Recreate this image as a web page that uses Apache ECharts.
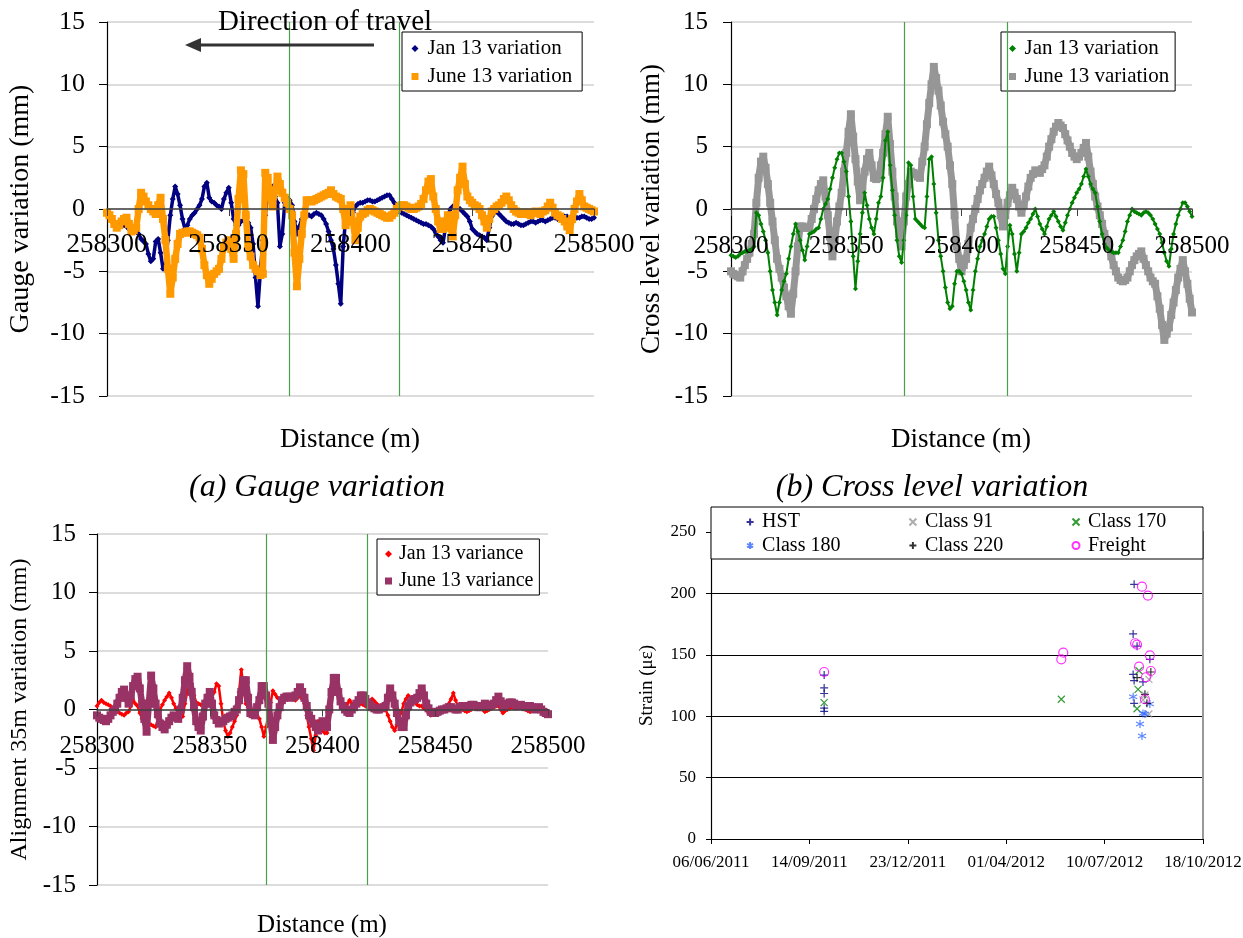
<!DOCTYPE html>
<html>
<head>
<meta charset="utf-8">
<script src="https://cdn.jsdelivr.net/npm/echarts@6/dist/echarts.min.js"></script>
<style>
  html, body { margin: 0; padding: 0; background: #ffffff; }
  #chart { width: 1243px; height: 938px; }
</style>
</head>
<body>
<div id="chart"></div>
<script>
// ---------- track survey data (distance along the line, 1 m sampling) ----------
const distance = Array.from({ length: 201 }, (_, i) => 258300 + i);
const distanceMin = 258300;
const distanceMax = 258500;
const distanceStep = 50;
const sectionMarks = [258375, 258420];   // boundaries of the monitored section

// gauge variation (mm)
const gaugeJan = [
  -0.4, -0.7, -1.0, -1.1, -1.2, -1.0, -1.1, -1.3, -1.4, -1.6,
  -1.5, -1.7, -1.8, -2.0, -2.4, -2.6, -2.8, -3.6, -4.2, -4.0,
  -2.6, -2.4, -3.5, -4.8, -4.5, -2.5, -0.5, 0.8, 1.8, 1.2,
  0.3, -0.8, -1.6, -1.3, -0.8, -0.5, -0.3, 0.0, 0.3, 0.8,
  1.8, 2.1, 0.9, 0.6, 0.5, 0.3, 0.2, 0.0, 0.8, 1.3,
  1.7, 0.5, -0.8, -1.3, -1.3, -1.0, -0.9, -0.8, -1.1, -1.5,
  -2.8, -5.5, -7.8, -5.0, -2.5, -0.5, 1.2, 1.8, 1.8, 1.0,
  0.5, -3.0, -2.0, 0.5, 0.9, 0.7, 0.3, -1.0, -2.0, -1.4,
  -0.8, -0.5, -0.4, -0.5, -0.6, -0.4, -0.3, -0.4, -0.5, -0.8,
  -1.2, -1.8, -2.5, -3.2, -4.5, -6.0, -7.6, -3.0, -0.8, -0.6,
  -0.7, -0.3, 0.2, 0.4, 0.5, 0.5, 0.6, 0.7, 0.7, 0.6,
  0.6, 0.7, 0.8, 0.9, 1.0, 1.1, 1.1, 0.8, 0.5, 0.1,
  -0.2, -0.3, -0.4, -0.5, -0.6, -0.7, -0.8, -0.9, -1.0, -1.1,
  -1.2, -1.2, -1.3, -1.4, -1.6, -1.9, -2.2, -2.5, -2.7, -1.5,
  -0.5, 0.0, 0.2, 0.2, 0.1, 0.0, -0.2, -0.4, -0.6, -1.0,
  -1.6, -1.8, -2.0, -2.1, -2.2, -2.3, -2.5, -1.5, -0.6, -0.3,
  -0.2, -0.4, -0.6, -0.8, -1.0, -1.1, -1.2, -1.2, -1.1, -1.2,
  -1.3, -1.3, -1.2, -1.1, -1.0, -1.0, -1.1, -1.0, -0.9, -0.9,
  -1.0, -0.9, -0.8, -0.7, -0.7, -0.8, -0.8, -0.7, -0.6, -0.6,
  -0.7, -0.8, -0.8, -0.7, -0.7, -0.6, -0.6, -0.7, -0.8, -0.8,
  -0.7
];
const gaugeJun = [
  -0.3, -0.5, -0.8, -1.2, -1.5, -1.3, -1.0, -0.8, -0.7, -1.2,
  -1.8, -1.7, -1.5, 0.0, 1.3, 1.0, 0.6, 0.3, 0.0, -0.2,
  -0.4, 0.3, 0.9, -0.8, -2.5, -4.8, -6.8, -5.5, -4.0, -2.8,
  -2.0, -1.9, -1.9, -1.8, -1.8, -1.9, -2.0, -2.1, -2.3, -3.2,
  -4.5, -5.3, -6.0, -5.6, -5.2, -5.0, -4.8, -4.0, -3.0, -2.7,
  -2.5, -3.2, -4.0, -2.0, 0.8, 3.1, 2.8, -0.5, -3.0, -3.8,
  -4.5, -4.8, -5.0, -5.3, -5.2, 2.9, 2.5, 1.0, 0.2, 1.5,
  2.6, 2.0, 1.3, 0.9, 0.5, 0.0, -0.5, -3.5, -6.2, -4.0,
  -2.0, -0.5, 0.7, 0.7, 0.6, 0.7, 0.8, 0.9, 1.0, 1.1,
  1.2, 1.3, 1.5, 1.2, 1.0, 0.9, 0.8, 0.0, -1.3, -0.5,
  0.3, -1.0, -2.5, -1.5, -0.6, -0.4, -0.3, -0.1, 0.0, -0.1,
  -0.2, -0.3, -0.4, -0.5, -0.6, -0.7, -0.7, -0.5, -0.3, 0.0,
  0.2, 0.3, 0.3, 0.2, 0.1, 0.0, 0.0, 0.1, 0.2, 0.4,
  0.8, 1.5, 2.2, 2.4, 1.0, 0.0, -1.0, -1.6, -1.6, -1.0,
  -0.5, -1.5, -2.2, -0.5, 1.5, 2.5, 3.4, 2.0, 1.0, 0.7,
  0.5, 0.3, 0.2, 0.0, -0.5, -1.0, -1.5, -0.8, -0.2, 0.0,
  0.2, 0.3, 0.5, 0.8, 1.0, 0.7, 0.3, 0.0, -0.2, -0.3,
  -0.4, -0.3, -0.3, -0.4, -0.5, -0.3, -0.2, -0.3, -0.4, -0.2,
  -0.1, 0.2, 0.5, 0.1, -0.3, -0.5, -0.6, -0.8, -1.0, -1.4,
  -1.7, -0.8, 0.0, 0.6, 1.2, 0.7, 0.2, 0.1, 0.0, -0.1,
  -0.2
];

// cross level variation (mm)
const crossJan = [
  -3.7, -3.8, -3.9, -3.8, -3.6, -3.5, -3.4, -3.4, -3.3, -3.2,
  -3.0, -0.3, -0.5, -1.2, -1.8, -2.5, -3.5, -5.0, -6.5, -7.5,
  -8.5, -7.5, -6.5, -5.8, -5.2, -4.0, -3.0, -2.0, -1.2, -1.8,
  -2.5, -3.3, -4.1, -3.0, -2.0, -1.9, -1.8, -1.6, -1.5, -0.8,
  0.0, 0.4, 0.8, 1.6, 2.5, 3.3, 4.0, 4.5, 4.5, 3.8,
  3.0, 1.0, -1.0, -3.8, -6.4, -4.2, -2.0, -0.3, 1.3, 0.3,
  -0.8, -1.5, -2.0, -0.8, 0.5, 1.0, 2.5, 5.5, 6.2, 3.5,
  1.5, -0.5, -2.5, -3.8, -4.3, -2.5, -0.5, 3.7, 3.5, 1.0,
  -0.8, -1.0, -1.2, -1.4, -1.5, 1.0, 4.0, 4.2, 2.0, -0.3,
  -2.5, -3.8, -5.0, -6.3, -7.5, -8.0, -7.8, -6.0, -5.0, -5.0,
  -5.2, -5.8, -6.5, -7.5, -8.1, -6.5, -5.0, -4.0, -3.0, -2.5,
  -2.0, -1.4, -0.8, -0.6, -0.6, -1.5, -2.5, -3.6, -4.8, -5.2,
  -3.0, -1.3, -2.0, -3.6, -5.0, -3.5, -2.0, -1.8, -1.5, -1.1,
  -0.8, -0.4, 0.0, -0.6, -1.2, -1.6, -2.0, -1.4, -0.8, -0.5,
  -0.2, -0.6, -1.0, -1.4, -1.7, -1.1, -0.5, 0.0, 0.5, 0.9,
  1.3, 1.6, 2.0, 2.6, 3.2, 2.6, 2.0, 1.6, 1.3, 0.2,
  -1.0, -2.0, -2.8, -3.1, -3.3, -3.4, -3.5, -3.5, -3.5, -3.0,
  -2.5, -1.8, -1.0, -0.5, 0.0, -0.2, -0.3, -0.4, -0.5, -0.3,
  -0.2, -0.3, -0.5, -0.8, -1.2, -1.6, -2.0, -2.7, -3.5, -4.2,
  -4.6, -3.2, -2.0, -1.2, -0.5, 0.0, 0.5, 0.5, 0.2, -0.2,
  -0.6
];
const crossJun = [
  -5.0, -5.2, -5.3, -5.4, -5.5, -5.0, -4.5, -4.0, -3.5, -2.8,
  -2.0, 0.5, 2.5, 3.8, 4.2, 3.3, 2.0, 0.5, -1.0, -2.5,
  -4.0, -4.8, -5.5, -6.3, -7.0, -7.8, -8.4, -6.8, -5.0, -3.0,
  -1.4, -1.4, -1.5, -1.5, -1.5, -0.8, 0.0, 0.8, 1.5, 2.0,
  2.3, 1.0, -0.5, -2.2, -3.8, -2.5, -1.0, 0.2, 1.3, 3.0,
  4.5, 6.2, 7.6, 5.8, 4.0, 2.2, 0.7, 1.8, 3.0, 4.0,
  4.5, 3.5, 2.5, 2.4, 2.5, 3.5, 4.5, 6.0, 7.4, 5.2,
  3.0, 1.0, -1.0, -2.0, -3.0, -1.0, 1.0, 2.0, 3.0, 2.9,
  2.8, 2.6, 2.5, 3.8, 5.0, 6.8, 8.5, 10.0, 11.4, 10.5,
  9.5, 8.3, 7.0, 6.0, 5.0, 3.5, 2.0, -0.5, -3.0, -4.0,
  -5.0, -4.5, -4.0, -2.8, -1.5, -0.8, 0.0, 0.8, 1.5, 2.0,
  2.5, 3.0, 3.4, 2.7, 2.0, 1.2, 0.5, -0.5, -1.4, -0.5,
  0.5, 1.1, 1.7, 1.3, 0.8, 0.2, -0.3, 0.3, 1.0, 1.8,
  2.5, 2.8, 3.1, 3.0, 2.9, 3.2, 3.5, 4.2, 5.0, 5.6,
  6.2, 6.6, 6.9, 6.7, 6.5, 6.0, 5.5, 5.0, 4.5, 4.2,
  4.0, 4.2, 4.5, 4.9, 5.3, 4.2, 3.0, 2.0, 1.0, 0.2,
  -0.5, -1.2, -2.0, -2.5, -3.0, -3.8, -4.5, -5.0, -5.5, -5.7,
  -5.8, -5.7, -5.5, -5.0, -4.5, -4.1, -3.8, -3.6, -3.4, -4.0,
  -4.5, -5.0, -5.5, -5.8, -6.0, -7.0, -8.0, -9.3, -10.5, -10.0,
  -9.5, -8.5, -7.5, -6.5, -5.5, -4.8, -4.1, -5.0, -6.0, -7.2,
  -8.3
];

// alignment 35 m variation (mm)
const alignJan = [
  0.3, 0.6, 0.8, 0.6, 0.5, 0.4, 0.3, 0.1, 0.0, -0.2,
  -0.3, -0.4, -0.5, -0.3, -0.2, 0.3, 0.8, 0.5, 0.3, -0.3,
  -0.8, -0.9, -1.0, -1.2, -1.3, -1.4, -1.5, -0.8, 0.0, 0.4,
  0.8, 1.1, 1.4, 1.0, 0.5, 0.1, -0.3, -0.5, -0.6, 0.5,
  1.5, 2.2, 2.2, 1.2, 0.6, 0.5, 0.4, 0.4, 0.5, 0.5,
  0.6, 1.0, 1.5, 2.2, 2.0, 0.5, -1.0, -1.8, -2.3, -2.0,
  -1.5, -1.0, -0.5, 1.5, 3.4, 1.8, 0.5, 0.2, 0.0, -0.1,
  -0.2, -0.5, -0.8, -1.5, -2.3, -1.5, -0.5, 0.6, 1.6, 1.3,
  1.0, 0.9, 0.8, 0.8, 0.9, 1.0, 1.0, 0.9, 0.8, 1.0,
  1.2, 0.9, 0.5, -0.5, -1.5, -2.5, -3.5, -2.2, -1.0, -1.4,
  -1.8, -2.0, -2.0, -0.5, 1.0, 2.0, 2.8, 1.5, 0.5, 0.4,
  0.3, 0.5, 0.8, 0.5, 0.2, 0.3, 0.5, 0.5, 0.4, 0.3,
  0.3, 0.6, 0.9, 0.7, 0.5, 0.3, 0.2, 0.1, 0.0, -0.5,
  -1.0, -1.5, -1.8, -1.3, -0.8, -0.2, 0.5, 0.9, 1.2, 1.0,
  0.8, 0.6, 0.4, 0.3, 0.3, 0.1, 0.0, -0.3, -0.5, -0.4,
  -0.3, -0.1, 0.0, 0.1, 0.2, 0.3, 0.5, 0.9, 1.4, 0.8,
  0.3, 0.1, 0.0, -0.1, -0.2, -0.1, 0.0, 0.2, 0.3, 0.2,
  0.1, 0.0, -0.2, -0.1, 0.0, 0.1, 0.2, 0.3, 0.3, 0.0,
  -0.3, -0.1, 0.0, 0.1, 0.2, 0.1, 0.1, 0.2, 0.3, 0.1,
  0.0, -0.1, -0.2, 0.0, 0.1, 0.2, 0.3, 0.1, 0.0, -0.2,
  -0.3
];
const alignJun = [
  -0.5, -0.7, -0.8, -0.9, -1.0, -0.8, -0.5, -0.2, 0.0, 0.5,
  1.0, 1.5, 1.7, 1.0, 0.5, 1.2, 2.0, 2.6, 2.8, 1.8,
  0.5, -0.8, -1.9, 0.5, 2.9, 1.8, 0.5, -0.4, -1.2, -1.5,
  -1.7, -1.3, -1.0, -0.7, -0.5, -0.6, -0.8, 0.0, 1.0, 2.5,
  3.7, 2.8, 1.5, 0.2, -1.0, -1.5, -1.8, -0.6, 0.5, 1.0,
  1.5, 0.5, -0.5, -0.9, -1.2, -1.1, -1.0, -0.8, -0.7, -0.6,
  -0.5, -0.2, 0.0, 0.8, 1.5, 2.5, 2.5, 1.0, -0.3, -0.4,
  -0.5, 0.2, 0.8, 2.0, 2.0, 1.2, 0.5, -1.0, -2.6, -1.5,
  -0.5, 0.2, 0.8, 1.0, 1.1, 1.1, 1.0, 1.1, 1.2, 1.5,
  1.9, 1.5, 1.0, 0.3, -0.5, -0.8, -1.2, -1.5, -1.8, -1.4,
  -1.0, -1.2, -1.5, 0.0, 1.5, 2.7, 2.7, 1.5, 0.7, 0.3,
  0.0, -0.2, -0.3, 0.0, 0.2, 0.5, 0.8, 1.2, 1.2, 0.9,
  0.6, 0.4, 0.2, 0.1, 0.0, 0.0, 0.1, 0.2, 0.3, 1.0,
  1.8, 1.2, 0.5, -0.3, -1.0, -1.5, -1.5, -0.5, 0.3, 0.6,
  0.8, 0.9, 1.0, 1.4, 1.8, 1.2, 0.5, 0.1, -0.2, -0.3,
  -0.3, -0.2, -0.1, 0.0, 0.0, 0.1, 0.2, 0.2, 0.1, 0.0,
  0.0, 0.2, 0.3, 0.3, 0.2, 0.3, 0.4, 0.4, 0.3, 0.2,
  0.2, 0.3, 0.5, 0.4, 0.3, 0.4, 0.5, 0.8, 1.1, 0.7,
  0.2, 0.3, 0.5, 0.6, 0.6, 0.5, 0.3, 0.3, 0.4, 0.3,
  0.2, 0.2, 0.3, 0.2, 0.0, 0.1, 0.2, 0.0, -0.2, -0.3,
  -0.4
];

// ---------- measured rail strain by train class ----------
const strainStart = '2011-06-06';
const strainSpanDays = 500;
const strainStepDays = 100;
const strainHST = [
  ['2011-09-29', 133.5], ['2011-09-29', 123], ['2011-09-29', 118.5], ['2011-09-29', 106.5],
  ['2011-09-29', 104], ['2012-08-09', 207.4], ['2012-08-08', 167], ['2012-08-12', 157],
  ['2012-08-25', 146.3], ['2012-08-08', 134], ['2012-08-09', 129], ['2012-08-18', 127.9],
  ['2012-08-09', 110.5]
];
const strainClass91 = [
  ['2012-08-24', 130], ['2012-08-20', 117.3], ['2012-08-18', 113.2], ['2012-08-24', 101.8]
];
const strainClass170 = [
  ['2011-09-29', 111], ['2012-05-27', 113.8], ['2012-08-14', 137], ['2012-08-13', 121.9],
  ['2012-08-12', 106.1]
];
const strainClass180 = [
  ['2012-08-08', 115.9], ['2012-08-25', 109.9], ['2012-08-18', 102.3], ['2012-08-20', 101.8],
  ['2012-08-15', 93.6], ['2012-08-17', 83.9]
];
const strainClass220 = [
  ['2012-08-26', 136], ['2012-08-12', 131.4], ['2012-08-20', 117.8], ['2012-08-22', 110.5]
];
const strainFreight = [
  ['2011-09-29', 136], ['2012-05-29', 151.7], ['2012-05-27', 146.3], ['2012-08-17', 205.5],
  ['2012-08-23', 198.2], ['2012-08-10', 159.4], ['2012-08-12', 158.2], ['2012-08-25', 149.6],
  ['2012-08-14', 140.3], ['2012-08-26', 136.8], ['2012-08-21', 131.7], ['2012-08-20', 113.8]
];

// ---------- helpers ----------
const FONT = '"Liberation Serif", "Times New Roman", Times, serif';
const DAY = 86400000;
const t0 = Date.parse(strainStart + 'T00:00:00Z');
const dayOf = s => Math.round((Date.parse(s + 'T00:00:00Z') - t0) / DAY);
const pad2 = n => (n < 10 ? '0' : '') + n;
const dateLabel = v => {
  const d = new Date(t0 + v * DAY);
  return pad2(d.getUTCDate()) + '/' + pad2(d.getUTCMonth() + 1) + '/' + d.getUTCFullYear();
};
const alongTrack = vals => distance.map((d, i) => [d, vals[i]]);
const byDay = pts => pts.map(p => [dayOf(p[0]), p[1]]);

const plusPath = 'path://M0,5L10,5M5,0L5,10';
const crossPath = 'path://M0,0L10,10M0,10L10,0';
const starPath = 'path://M5,0L5,10M0.7,2.5L9.3,7.5M0.7,7.5L9.3,2.5';

// plot rectangles
const grids = [
  { left: 107, top: 22, width: 487, height: 374 },   // gauge
  { left: 731, top: 22, width: 461, height: 374 },   // cross level
  { left: 97, top: 534, width: 451, height: 351 },   // alignment
  { left: 711, top: 532, width: 492, height: 307 }   // strain
].map(g => Object.assign({ outerBoundsMode: 'none', containLabel: false }, g));

// distance axis drawn through the zero line of the symmetric (-15..15) value axis
function distAxis(gridIndex, fontSize, margin) {
  return {
    type: 'value', gridIndex, min: distanceMin, max: distanceMax, interval: distanceStep,
    position: 'bottom', offset: -grids[gridIndex].height / 2, z: 5,
    axisLine: { show: true, onZero: false, lineStyle: { color: '#404040', width: 1.5 } },
    axisTick: { show: true, inside: false, length: 7, lineStyle: { color: '#404040', width: 1 } },
    axisLabel: { fontFamily: FONT, fontSize, color: '#000', margin, formatter: v => String(v) },
    splitLine: { show: false }
  };
}
function varAxis(gridIndex, name, nameSize, nameGap, fontSize, margin) {
  return {
    type: 'value', gridIndex, min: -15, max: 15, interval: 5,
    name, nameLocation: 'middle', nameGap,
    nameTextStyle: { fontFamily: FONT, fontSize: nameSize, color: '#000' },
    axisLine: { show: true, onZero: false, lineStyle: { color: '#000', width: 1.2 } },
    axisTick: { show: true, length: 8, lineStyle: { color: '#000', width: 1 } },
    axisLabel: { fontFamily: FONT, fontSize, color: '#000', margin },
    splitLine: { show: true, lineStyle: { color: '#d0d0d0', width: 1.5 } }
  };
}
const sectionLines = {
  silent: true, symbol: ['none', 'none'], label: { show: false },
  lineStyle: { color: '#4aa04a', width: 1.2, type: 'solid', opacity: 1 },
  emphasis: { disabled: true },
  data: sectionMarks.map(x => ({ xAxis: x }))
};
// densely sampled survey trace: markers joined by a band of the same colour
function trackSeries(name, axisIndex, vals, symbol, size, band, color, withLines, z) {
  const s = {
    name, type: 'line', xAxisIndex: axisIndex, yAxisIndex: axisIndex,
    data: alongTrack(vals), symbol, symbolSize: size, showSymbol: true, showAllSymbol: true, z,
    itemStyle: { color, opacity: 1 },
    lineStyle: { color, width: band, join: 'round', cap: 'round' },
    emphasis: { disabled: true }
  };
  if (withLines) s.markLine = sectionLines;
  return s;
}
function strainSeries(name, pts, symbol, size, color) {
  return {
    name, type: 'scatter', xAxisIndex: 3, yAxisIndex: 3, data: byDay(pts),
    symbol, symbolSize: size, z: 2,
    itemStyle: { color: 'transparent', borderColor: color, borderWidth: 1.2 },
    emphasis: { disabled: true }
  };
}
// legend keys show a small filled marker only
function boxLegend(left, top, fontSize, padding, textShift, entries) {
  return {
    orient: 'vertical', left, top, padding, itemWidth: 7, itemHeight: 7, itemGap: 7,
    borderColor: '#000', borderWidth: 1, backgroundColor: '#fff',
    textStyle: { fontFamily: FONT, fontSize, color: '#000', padding: [0, 0, 0, textShift] },
    selectedMode: false,
    data: entries.map(e => ({
      name: e[0], icon: e[1],
      itemStyle: { color: e[2], borderWidth: 0, borderColor: 'transparent' },
      lineStyle: { opacity: 0, width: 0 }
    }))
  };
}
function strainLegend(left, names) {
  return {
    orient: 'vertical', left, top: 512, padding: 0, itemWidth: 14, itemHeight: 7, itemGap: 3.5,
    textStyle: { fontFamily: FONT, fontSize: 20, color: '#000' },
    selectedMode: false, data: names
  };
}
function label(x, y, text, size, italic) {
  return {
    type: 'text', x, y, z: 10,
    style: {
      text, fill: '#000', fontFamily: FONT, fontSize: size, fontStyle: italic ? 'italic' : 'normal',
      align: 'center', verticalAlign: 'middle', textAlign: 'center', textVerticalAlign: 'middle'
    }
  };
}

const option = {
  animation: false,
  backgroundColor: '#ffffff',
  grid: grids,
  xAxis: [
    distAxis(0, 27, 22),
    distAxis(1, 25, 25),
    distAxis(2, 25, 24),
    {
      type: 'value', gridIndex: 3, min: 0, max: strainSpanDays, interval: strainStepDays,
      axisLine: { show: true, onZero: false, lineStyle: { color: '#000', width: 1.2 } },
      axisTick: { show: true, length: 5, lineStyle: { color: '#000' } },
      axisLabel: { fontFamily: FONT, fontSize: 17, color: '#000', margin: 15, formatter: dateLabel },
      splitLine: { show: false }
    }
  ],
  yAxis: [
    varAxis(0, 'Gauge variation (mm)', 28, 72, 26, 22),
    varAxis(1, 'Cross level variation (mm)', 27, 66, 25, 23),
    varAxis(2, 'Alignment 35m variation (mm)', 24, 65, 25, 21),
    {
      type: 'value', gridIndex: 3, min: 0, max: 250, interval: 50,
      name: 'Strain (\u03bc\u03b5)', nameLocation: 'middle', nameGap: 54,
      nameTextStyle: { fontFamily: FONT, fontSize: 19, color: '#000' },
      axisLine: { show: true, onZero: false, lineStyle: { color: '#000', width: 1.2 } },
      axisTick: { show: true, length: 5, lineStyle: { color: '#000' } },
      axisLabel: { fontFamily: FONT, fontSize: 17, color: '#000', margin: 15 },
      splitLine: { show: true, lineStyle: { color: '#000', width: 1 } }
    },
    {
      type: 'value', gridIndex: 3, min: 0, max: 250, position: 'right',
      axisLine: { show: true, onZero: false, lineStyle: { color: '#999', width: 2 } },
      axisTick: { show: false }, axisLabel: { show: false }, splitLine: { show: false }
    }
  ],
  legend: [
    boxLegend(402, 32, 21, [6, 10, 4, 9.5], 4, [
      ['Jan 13 variation', 'diamond', '#000080'], ['June 13 variation', 'rect', '#FF9900']
    ]),
    boxLegend(1001, 32, 21, [6, 6, 4, 8], 3.5, [
      ['Jan 13 variation', 'diamond', '#008000'], ['June 13 variation', 'rect', '#969696']
    ]),
    boxLegend(377, 539, 20, [5, 6, 4, 8], 2, [
      ['Jan 13 variance', 'diamond', '#FF0000'], ['June 13 variance', 'rect', '#993366']
    ]),
    strainLegend(745.6, ['HST', 'Class 180']),
    strainLegend(908.4, ['Class 91', 'Class 220']),
    strainLegend(1071.5, ['Class 170', 'Freight'])
  ],
  series: [
    trackSeries('Jan 13 variation', 0, gaugeJan, 'diamond', 6, 3.5, '#000080', true, 2),
    trackSeries('June 13 variation', 0, gaugeJun, 'rect', 8, 6.5, '#FF9900', false, 3),
    trackSeries('June 13 variation', 1, crossJun, 'rect', 8, 7, '#969696', true, 2),
    trackSeries('Jan 13 variation', 1, crossJan, 'diamond', 5, 2, '#008000', false, 3),
    trackSeries('Jan 13 variance', 2, alignJan, 'diamond', 5, 2.5, '#FF0000', true, 2),
    trackSeries('June 13 variance', 2, alignJun, 'rect', 8, 6.5, '#993366', false, 3),
    strainSeries('HST', strainHST, plusPath, 8, '#000080'),
    strainSeries('Class 91', strainClass91, crossPath, 7, '#999999'),
    strainSeries('Class 170', strainClass170, crossPath, 7, '#008000'),
    strainSeries('Class 180', strainClass180, starPath, 8, '#3366FF'),
    strainSeries('Class 220', strainClass220, plusPath, 8, '#000000'),
    strainSeries('Freight', strainFreight, 'circle', 9, '#FF00FF')
  ],
  graphic: [
    label(325, 22, 'Direction of travel', 29, false),
    { type: 'line', z: 10, shape: { x1: 374, y1: 45, x2: 198, y2: 45 }, style: { stroke: '#333', lineWidth: 3 } },
    { type: 'polygon', z: 10, shape: { points: [[185, 45], [201, 38], [201, 52]] }, style: { fill: '#333' } },
    label(350, 440, 'Distance (m)', 27, false),
    label(961, 440, 'Distance (m)', 27, false),
    label(322, 925, 'Distance (m)', 25, false),
    label(317, 488, '(a) Gauge variation', 32, true),
    label(932, 488, '(b) Cross level variation', 32, true),
    { type: 'rect', z: 3, shape: { x: 711, y: 507, width: 492, height: 52 }, style: { fill: '#fff', stroke: '#000', lineWidth: 1 } }
  ]
};

const chart = echarts.init(document.getElementById('chart'), null, { renderer: 'canvas' });
chart.setOption(option);
</script>
</body>
</html>
